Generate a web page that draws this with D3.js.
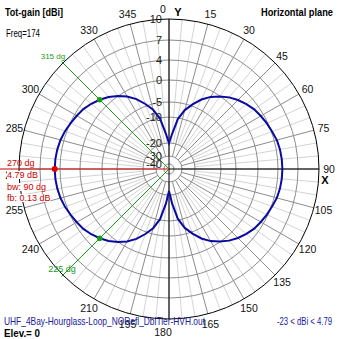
<!DOCTYPE html>
<html>
<head>
<meta charset="utf-8">
<script src="https://cdn.jsdelivr.net/npm/d3@7/dist/d3.min.js"></script>
<style>
  html, body { margin: 0; padding: 0; background: #fff; }
  svg { display: block; }
  text { font-family: "Liberation Sans", Arial, sans-serif; }
</style>
</head>
<body>
<svg id="chart" width="339" height="339"></svg>
<script>
// Azimuth (degrees, 0 = Y axis, clockwise) and total gain in dBi
const azimuth = [
  0, 5, 10, 15, 20, 25, 30, 35, 40, 45, 50, 55, 60, 65, 70, 75, 80, 85,
  90, 95, 100, 105, 110, 115, 120, 125, 130, 135, 140, 145, 150, 155, 160, 165, 170, 175,
  180, 185, 190, 195, 200, 205, 210, 215, 220, 225, 230, 235, 240, 245, 250, 255, 260, 265,
  270, 275, 280, 285, 290, 295, 300, 305, 310, 315, 320, 325, 330, 335, 340, 345, 350, 355
];
const gain = [
  -20.0, -16.5, -10.5, -7.0, -4.6, -2.8, -1.3, -0.1, 0.9, 1.7, 2.4, 3.0, 3.4, 3.8, 4.1, 4.4, 4.55, 4.63,
  4.66, 4.63, 4.55, 4.4, 4.1, 3.8, 3.4, 3.0, 2.4, 1.7, 0.9, -0.1, -1.3, -2.8, -4.6, -7.0, -10.6, -16.8,
  -23.0, -16.7, -10.5, -6.9, -4.5, -2.7, -1.2, 0.0, 1.0, 1.79, 2.5, 3.1, 3.5, 3.9, 4.25, 4.5, 4.66, 4.76,
  4.79, 4.76, 4.66, 4.5, 4.25, 3.9, 3.5, 3.1, 2.5, 1.79, 1.0, 0.0, -1.2, -2.7, -4.5, -6.9, -10.4, -16.4
];

// Gain rings (dBi) and azimuth tick labels
const ringLevels = [10, 7, 4, 0, -5, -10, -20, -30, -40];
const ringRadii  = [150, 129, 109, 89, 67, 52, 26, 13, 5];
const angleLabels = [0, 15, 30, 45, 60, 75, 90, 105, 120, 135, 150, 165, 180, 195, 210, 240, 255, 270, 285, 300, 330, 345];

// Main lobe marker and -3 dB beamwidth directions
const maxDir = 270, maxGain = 4.79;
const bwDirs = [315, 225], bwGain = 1.79;
const infoLines = ["270 dg", "4.79 dB", "bw: 90 dg", "fb: 0.13 dB"];

const svg = d3.select("#chart");
const cx = 169, cy = 169;
const r = d3.scaleLinear().domain(ringLevels.slice().reverse()).range(ringRadii.slice().reverse()).clamp(true);
const rOuter = r(10);

const g = svg.append("g").attr("transform", `translate(${cx},${cy})`);
const rad = a => a * Math.PI / 180;
const px = (a, rr) => rr * Math.sin(rad(a));
const py = (a, rr) => -rr * Math.cos(rad(a));

// radial spokes: light every 5 deg, darker every 15 deg
const spokes = d3.range(0, 360, 5);
g.selectAll("line.spoke").data(spokes).join("line")
  .attr("x1", a => px(a, a % 15 === 0 ? r(-30) : r(-20)))
  .attr("y1", a => py(a, a % 15 === 0 ? r(-30) : r(-20)))
  .attr("x2", a => px(a, rOuter))
  .attr("y2", a => py(a, rOuter))
  .attr("stroke", a => a % 15 === 0 ? "#8c8c8c" : "#d4d4d4")
  .attr("stroke-width", 1);

// gain rings
g.selectAll("circle.ring").data(ringLevels).join("circle")
  .attr("r", d => r(d))
  .attr("fill", "none")
  .attr("stroke", d => d === 10 ? "#000" : "#8c8c8c")
  .attr("stroke-width", 1);

// axes
g.append("line").attr("x1", 0).attr("y1", -rOuter).attr("x2", 0).attr("y2", rOuter)
  .attr("stroke", "#000").attr("stroke-width", 1);
g.append("line").attr("x1", 0).attr("y1", 0).attr("x2", rOuter).attr("y2", 0)
  .attr("stroke", "#000").attr("stroke-width", 1);

// beamwidth lines
bwDirs.forEach(a => {
  g.append("line").attr("x1", 0).attr("y1", 0)
    .attr("x2", px(a, rOuter + 2)).attr("y2", py(a, rOuter + 2))
    .attr("stroke", "#1a9a1a").attr("stroke-width", 1);
});

// max direction line
g.append("line").attr("x1", 0).attr("y1", 0).attr("x2", -cx).attr("y2", 0)
  .attr("stroke", "#cc0000").attr("stroke-width", 1);

// ring labels
g.selectAll("text.ringlbl").data(ringLevels).join("text")
  .attr("x", -7).attr("y", d => -r(d))
  .attr("text-anchor", "end").attr("dominant-baseline", "central")
  .attr("font-size", 11).attr("fill", "#222")
  .text(d => d);

// azimuth labels
g.selectAll("text.anglbl").data(angleLabels).join("text")
  .attr("x", a => a === 0 || a === 180 ? -6 : a === 270 ? px(a, 155) : px(a, 160))
  .attr("y", a => a === 0 ? -rOuter - 10 : a === 180 ? rOuter + 13 : a === 270 ? 6 : py(a, 160))
  .attr("text-anchor", "middle").attr("dominant-baseline", "central")
  .attr("font-size", 10.5).attr("fill", "#111")
  .text(a => a);

g.append("text").attr("x", 9).attr("y", -rOuter - 7).attr("text-anchor", "middle")
  .attr("dominant-baseline", "central").attr("font-size", 11).attr("font-weight", "bold").text("Y");
g.append("text").attr("x", rOuter + 6).attr("y", 11).attr("text-anchor", "middle")
  .attr("dominant-baseline", "central").attr("font-size", 11).attr("font-weight", "bold").text("X");

// pattern
const pts = azimuth.map((a, i) => [rad(a), r(gain[i])]);
const radial = d3.lineRadial().angle(d => d[0]).radius(d => d[1]).curve(d3.curveLinearClosed);
g.append("path").attr("d", radial(pts))
  .attr("fill", "none").attr("stroke", "#0a0aa0").attr("stroke-width", 2);

// markers
bwDirs.forEach(a => {
  g.append("circle").attr("cx", px(a, r(bwGain))).attr("cy", py(a, r(bwGain)))
    .attr("r", 2.8).attr("fill", "#1a9a1a");
});
g.append("circle").attr("cx", px(maxDir, r(maxGain))).attr("cy", py(maxDir, r(maxGain)))
  .attr("r", 3).attr("fill", "#dd0000");

// beamwidth labels
g.append("text").attr("x", px(315, rOuter) - 10).attr("y", py(315, rOuter) - 6)
  .attr("text-anchor", "middle").attr("dominant-baseline", "central")
  .attr("font-size", 8).attr("fill", "#1a9a1a").text("315 dg");
g.append("text").attr("x", px(225, rOuter) - 1).attr("y", py(225, rOuter) - 6)
  .attr("text-anchor", "middle").attr("dominant-baseline", "central")
  .attr("font-size", 9).attr("fill", "#1a9a1a").text("225 dg");

// max direction info, each line on a white backing
const infoY = [163, 175, 187, 198];
const info = svg.append("g");
infoLines.forEach((t, i) => {
  const bg = info.append("rect").attr("fill", "#fff");
  const tx = info.append("text").attr("x", 7).attr("y", infoY[i])
    .attr("dominant-baseline", "central").attr("font-size", 9).attr("fill", "#cc0000").text(t);
  const bb = tx.node().getBBox();
  if (i === 0) bg.remove();
  else bg.attr("x", bb.x).attr("y", bb.y + 1).attr("width", bb.width).attr("height", bb.height - 2);
});

// titles and footer (narrow, fixed-width runs)
const label = (x, y, t, opts) => svg.append("text").attr("x", x).attr("y", y)
  .attr("font-size", opts.size).attr("fill", opts.fill || "#000")
  .attr("font-weight", opts.bold ? "bold" : "normal")
  .attr("textLength", opts.len).attr("lengthAdjust", "spacingAndGlyphs")
  .text(t);

label(5, 16, "Tot-gain [dBi]", {size: 11, bold: true, len: 58});
label(261, 16, "Horizontal plane", {size: 11, bold: true, len: 72});
label(6, 37, "Freq=174", {size: 10.5, len: 34});
label(4, 325, "UHF_4Bay-Hourglass-Loop_NORefl_DblTier-HVH.out", {size: 10.5, fill: "#2020a0", len: 201});
label(277, 325, "-23 < dBi < 4.79", {size: 10.5, fill: "#2020a0", len: 55});
label(4, 337, "Elev.= 0", {size: 10.5, bold: true, len: 36});
</script>
</body>
</html>
